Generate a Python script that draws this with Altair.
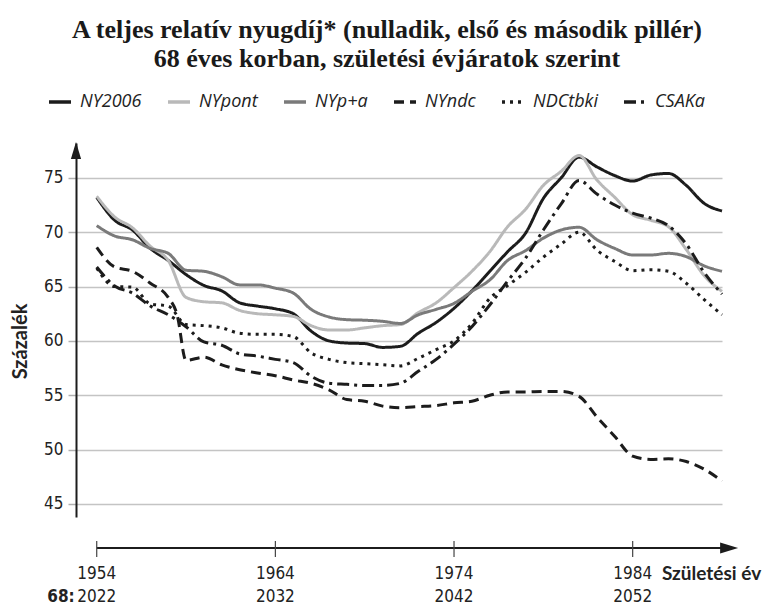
import altair as alt
import pandas as pd

# ---------------- data ----------------
years = list(range(1954, 1990))

ny2006 = [73.2, 71.1, 70.2, 68.5, 67.4, 66.1, 65.1, 64.6, 63.5, 63.2,
          62.95, 62.5, 60.9, 60.0, 59.8, 59.75, 59.4, 59.5, 60.7, 61.7,
          63.0, 64.6, 66.4, 68.2, 69.9, 73.1, 75.0, 76.9, 76.0, 75.2,
          74.7, 75.25, 75.4, 74.3, 72.65, 71.95]

nypont = [73.3, 71.4, 70.4, 68.7, 67.4, 64.0, 63.6, 63.5, 62.8, 62.5,
          62.4, 62.25, 61.4, 61.0, 61.0, 61.2, 61.4, 61.5, 62.6, 63.5,
          64.9, 66.4, 68.2, 70.5, 72.1, 74.3, 75.6, 77.05, 74.8, 73.2,
          71.6, 71.1, 70.5, 68.4, 66.0, 64.55]

nypa = [70.6, 69.65, 69.3, 68.5, 68.05, 66.5, 66.4, 65.9, 65.15, 65.15,
        64.85, 64.4, 62.9, 62.2, 61.95, 61.9, 61.8, 61.6, 62.4, 62.9,
        63.45, 64.55, 65.6, 67.4, 68.3, 69.45, 70.2, 70.45, 69.3, 68.5,
        67.9, 67.9, 68.05, 67.75, 66.9, 66.4]

ndc_years = [1954, 1955, 1956, 1957, 1958, 1958.5, 1959, 1960, 1961, 1962, 1963,
             1964, 1965, 1966, 1967, 1968, 1969, 1970, 1971, 1972, 1973,
             1974, 1975, 1976, 1977, 1978, 1979, 1980, 1981, 1982, 1983,
             1984, 1985, 1986, 1987, 1988, 1989]
nyndc = [68.6, 66.8, 66.4, 65.3, 64.0, 62.4, 58.2, 58.5, 57.8, 57.35, 57.05,
         56.8, 56.4, 56.1, 55.5, 54.6, 54.45, 54.0, 53.85, 53.95, 54.05,
         54.3, 54.45, 55.0, 55.3, 55.3, 55.35, 55.35, 54.9, 53.0, 51.2,
         49.4, 49.1, 49.15, 48.9, 48.2, 47.1]

ndctbki = [66.7, 65.0, 64.95, 63.4, 63.2, 61.5, 61.4, 61.2, 60.7, 60.6,
           60.6, 60.4, 58.9, 58.3, 58.0, 57.9, 57.8, 57.7, 58.4, 59.2,
           60.0, 61.6, 63.9, 65.1, 66.3, 67.7, 68.9, 70.0, 68.35, 67.3,
           66.45, 66.55, 66.4, 65.3, 63.8, 62.4]

csaka = [66.8, 65.05, 64.4, 63.2, 62.4, 61.3, 59.9, 59.6, 58.8, 58.6,
         58.3, 58.0, 56.75, 56.1, 56.0, 55.9, 55.9, 56.1, 57.2, 58.3,
         59.7, 61.3, 63.3, 65.5, 67.6, 70.2, 72.6, 74.75, 73.5, 72.5,
         71.75, 71.3, 70.6, 68.9, 66.3, 64.3]

series_names = ["NY2006", "NYpont", "NYp+a", "NYndc", "NDCtbki", "CSAKa"]
series_colors = ["#1c1c1c", "#b9b9b9", "#7a7a7a", "#1c1c1c", "#1c1c1c", "#1c1c1c"]
series_dashes = [[1, 0], [1, 0], [1, 0], [10, 6], [3, 5], [12, 5, 3, 5]]

tick_years = [1954, 1964, 1974, 1984]
tick_labels_1 = ["1954", "1964", "1974", "1984"]
tick_labels_2 = ["2022", "2032", "2042", "2052"]
y_ticks = [45, 50, 55, 60, 65, 70, 75]

title_lines = ["A teljes relatív nyugdíj* (nulladik, első és második pillér)",
               "68 éves korban, születési évjáratok szerint"]

# ---------------- tables ----------------
rows = []
for name, xs, vals in [("NY2006", years, ny2006), ("NYpont", years, nypont),
                       ("NYp+a", years, nypa), ("NYndc", ndc_years, nyndc),
                       ("NDCtbki", years, ndctbki), ("CSAKa", years, csaka)]:
    for x, v in zip(xs, vals):
        rows.append({"year": x, "value": v, "series": name})
df = pd.DataFrame(rows)

ticks_df = pd.DataFrame({"year": tick_years, "lab1": tick_labels_1, "lab2": tick_labels_2})

NARROW = "Liberation Sans Narrow, DejaVu Sans Condensed, Roboto Condensed, sans-serif"
INK = "#1c1c1c"

xscale = alt.Scale(domain=[1952.84, 1989.0], nice=False, zero=False)
yscale = alt.Scale(domain=[43.8, 78.2], nice=False, zero=False)

legend = alt.Legend(
    orient="none", legendX=-29, legendY=-54, direction="horizontal", title=None,
    symbolType="stroke", symbolStrokeWidth=3.5, symbolSize=484,
    labelFont="Open Sans", labelFontStyle="italic", labelFontSize=18,
    labelColor="#222222", labelOffset=7, columnPadding=19, padding=0,
)

lines = alt.Chart(df).mark_line(strokeWidth=3, interpolate="monotone").encode(
    x=alt.X("year:Q", scale=xscale, axis=None),
    y=alt.Y(
        "value:Q", scale=yscale,
        axis=alt.Axis(
            values=y_ticks, grid=True, gridColor="#c4c4c4", gridWidth=1.5,
            domainColor=INK, domainWidth=2, tickColor="#b0b0b0", tickSize=8, tickWidth=1.5,
            labelFont=NARROW, labelFontSize=17, labelColor="#222222", labelPadding=5,
            title="Százalék", titleFont="Lato", titleFontWeight="bold", titleFontSize=20,
            titleColor="#222222", titleAngle=270, titleX=-56, titleY=198,
            titleAlign="center", titleBaseline="middle",
        ),
    ),
    color=alt.Color("series:N", scale=alt.Scale(domain=series_names, range=series_colors),
                    legend=legend, sort=series_names),
    strokeDash=alt.StrokeDash("series:N", scale=alt.Scale(domain=series_names, range=series_dashes),
                              legend=legend, sort=series_names),
)

one = pd.DataFrame({"x0": [1954.0], "x1": [1989.0], "xa": [1989.4]})

x_axis_line = alt.Chart(one).mark_rule(color=INK, strokeWidth=2).encode(
    x=alt.X("x0:Q", axis=None), x2="x1:Q", y=alt.value(405)
)
x_arrow = alt.Chart(one).mark_point(
    shape="M1,0L-1,-0.6L-1,0.6Z", size=324, filled=True, color=INK, opacity=1, strokeWidth=0
).encode(x=alt.X("xa:Q", axis=None), y=alt.value(405))

y_arrow = alt.Chart(one).mark_point(
    shape="M0,-1L0.6,1L-0.6,1Z", size=289, filled=True, color=INK, opacity=1, strokeWidth=0
).encode(x=alt.value(0), y=alt.value(7.5))

x_ticks = alt.Chart(ticks_df).mark_rule(color="#444444", strokeWidth=1.2).encode(
    x=alt.X("year:Q", axis=None), y=alt.value(398), y2=alt.value(414)
)
x_lab1 = alt.Chart(ticks_df).mark_text(
    font=NARROW, fontSize=17, color="#222222", align="center", baseline="middle"
).encode(x=alt.X("year:Q", axis=None), y=alt.value(431), text="lab1:N")
x_lab2 = alt.Chart(ticks_df).mark_text(
    font=NARROW, fontSize=17, color="#222222", align="center", baseline="middle"
).encode(x=alt.X("year:Q", axis=None), y=alt.value(454), text="lab2:N")

age_lab = alt.Chart(one).mark_text(
    font=NARROW, fontSize=17, fontWeight="bold", color="#222222", align="right",
    baseline="middle", dx=-22
).encode(x=alt.X("x0:Q", axis=None), y=alt.value(454), text=alt.value("68:"))

x_title = alt.Chart(one).mark_text(
    font="Lato", fontSize=19, fontWeight="bold", color="#222222", align="left", baseline="middle"
).encode(x=alt.value(586), y=alt.value(431), text=alt.value("Születési év"))

title1 = alt.Chart(one).mark_text(
    font="Liberation Serif", fontSize=26, fontWeight="bold", color="#1a1a1a",
    align="center", baseline="alphabetic"
).encode(x=alt.value(311), y=alt.value(-105), text=alt.value(title_lines[0]))
title2 = alt.Chart(one).mark_text(
    font="Liberation Serif", fontSize=26, fontWeight="bold", color="#1a1a1a",
    align="center", baseline="alphabetic"
).encode(x=alt.value(311), y=alt.value(-76), text=alt.value(title_lines[1]))

chart = alt.layer(
    lines, x_axis_line, x_arrow, y_arrow, x_ticks, x_lab1, x_lab2, age_lab, x_title, title1, title2
).properties(
    width=646, height=374,
    padding={"left": 68, "top": 135, "right": 40, "bottom": 90},
    autosize=alt.AutoSizeParams(type="none"),
).configure_view(stroke=None)

chart.save("out.html", embed_options={"renderer": "svg", "actions": False})
